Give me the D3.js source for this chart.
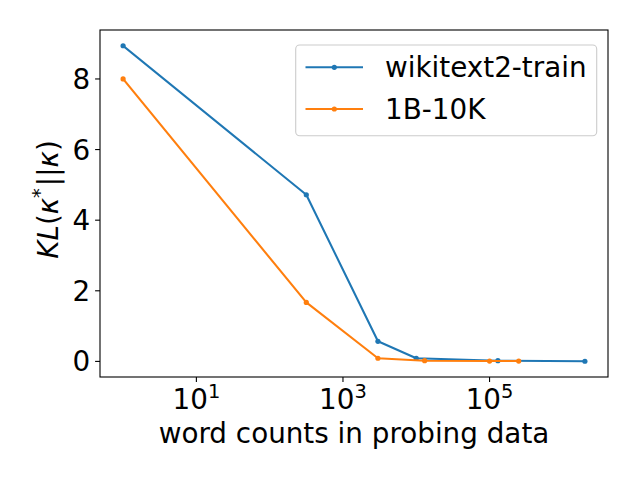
<!DOCTYPE html>
<html>
<head>
<meta charset="utf-8">
<script src="https://cdn.jsdelivr.net/npm/d3@7"></script>
<style>
  html, body { margin: 0; padding: 0; background: #fff; }
  svg { display: block; font-family: "DejaVu Sans", sans-serif; }
</style>
</head>
<body>
<svg id="chart" width="640" height="480"></svg>
<script>
// ---- data ----
const seriesNames = ["wikitext2-train", "1B-10K"];
const countsWiki = [1, 316, 3000, 10000, 130000, 2000000];
const klWiki     = [8.94, 4.72, 0.57, 0.09, 0.02, 0.005];
const countsOneB = [1, 316, 3000, 13000, 100000, 250000];
const klOneB     = [8.0, 1.67, 0.09, 0.02, 0.01, 0.01];
const xTickExps  = [1, 3, 5];
const yTicks     = [0, 2, 4, 6, 8];
const colors     = ["#1f77b4", "#ff7f0e"];

const series = [
  {name: seriesNames[0], color: colors[0], pts: countsWiki.map((c, i) => ({x: c, y: klWiki[i]}))},
  {name: seriesNames[1], color: colors[1], pts: countsOneB.map((c, i) => ({x: c, y: klOneB[i]}))}
];

const svg = d3.select("#chart");
const L = 100, R = 608, T = 30, B = 377;
const FS = 27.8;

const allX = countsWiki.concat(countsOneB);
const allY = klWiki.concat(klOneB);
const lmin = Math.log10(d3.min(allX)), lmax = Math.log10(d3.max(allX));
const lr = lmax - lmin;
const x = d3.scaleLog()
  .domain([Math.pow(10, lmin - 0.05 * lr), Math.pow(10, lmax + 0.05 * lr)])
  .range([L, R]);
const ymin = d3.min(allY), ymax = d3.max(allY), yr = ymax - ymin;
const y = d3.scaleLinear()
  .domain([ymin - 0.05 * yr, ymax + 0.05 * yr])
  .range([B, T]);

// lines
const line = d3.line().x(d => x(d.x)).y(d => y(d.y));
series.forEach(s => {
  svg.append("path").datum(s.pts)
    .attr("d", line).attr("fill", "none")
    .attr("stroke", s.color).attr("stroke-width", 2.08)
    .attr("stroke-linejoin", "round").attr("stroke-linecap", "square");
  svg.selectAll(null).data(s.pts).enter().append("circle")
    .attr("cx", d => x(d.x)).attr("cy", d => y(d.y)).attr("r", 2.6)
    .attr("fill", s.color);
});

// axes frame
svg.append("rect").attr("x", L).attr("y", T).attr("width", R - L).attr("height", B - T)
  .attr("fill", "none").attr("stroke", "#000").attr("stroke-width", 1.1);

// y ticks
const yAxis = svg.append("g");
yTicks.forEach(t => {
  const yy = y(t);
  yAxis.append("line").attr("x1", L - 4.9).attr("x2", L).attr("y1", yy).attr("y2", yy)
    .attr("stroke", "#000").attr("stroke-width", 1.1);
  yAxis.append("text").attr("x", L - 9.8).attr("y", yy).attr("dy", "0.36em")
    .attr("text-anchor", "end").attr("font-size", FS).attr("fill", "#000").text(t);
});

// x ticks
const xAxis = svg.append("g");
xTickExps.forEach(e => {
  const xx = x(Math.pow(10, e));
  xAxis.append("line").attr("x1", xx).attr("x2", xx).attr("y1", B).attr("y2", B + 4.9)
    .attr("stroke", "#000").attr("stroke-width", 1.1);
  const t = xAxis.append("text").attr("x", xx).attr("y", 409)
    .attr("text-anchor", "middle").attr("font-size", FS).attr("fill", "#000");
  t.append("tspan").text("10");
  t.append("tspan").attr("dy", -11).attr("font-size", FS * 0.7).text(e);
});

// x label
svg.append("text").attr("x", (L + R) / 2).attr("y", 443).attr("text-anchor", "middle")
  .attr("font-size", FS).attr("fill", "#000").text("word counts in probing data");

// y label (mathtext-like)
const yl = svg.append("text")
  .attr("transform", `translate(58,${(T + B) / 2 - 4}) rotate(-90)`)
  .attr("text-anchor", "middle").attr("font-size", FS).attr("fill", "#000");
yl.append("tspan").attr("font-style", "italic").text("KL");
yl.append("tspan").text("(");
yl.append("tspan").attr("font-style", "italic").text("κ");
yl.append("tspan").attr("dy", -12).attr("font-size", FS * 0.7).text("*");
yl.append("tspan").attr("dy", 12).attr("dx", 2).text("||");
yl.append("tspan").attr("font-style", "italic").text("κ");
yl.append("tspan").text(")");

// legend
const lg = svg.append("g");
lg.append("rect").attr("x", 295.7).attr("y", 45).attr("width", 301).attr("height", 90.7)
  .attr("rx", 4).attr("fill", "#fff").attr("fill-opacity", 0.8)
  .attr("stroke", "#cccccc").attr("stroke-width", 1.1);
series.forEach((s, i) => {
  const yy = 67.3 + i * 41.7;
  lg.append("line").attr("x1", 305.5).attr("x2", 363).attr("y1", yy).attr("y2", yy)
    .attr("stroke", s.color).attr("stroke-width", 2.08);
  lg.append("circle").attr("cx", 334.3).attr("cy", yy).attr("r", 2.6).attr("fill", s.color);
  lg.append("text").attr("x", 385).attr("y", yy).attr("dy", "0.36em")
    .attr("font-size", FS).attr("fill", "#000").text(s.name);
});
</script>
</body>
</html>
